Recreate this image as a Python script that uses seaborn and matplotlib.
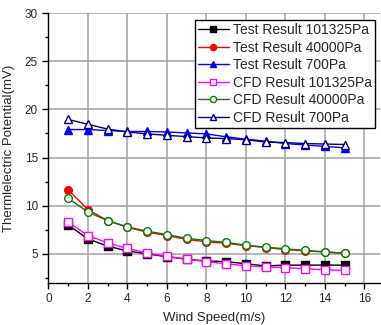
import numpy as np
import matplotlib
matplotlib.use('Agg')
import matplotlib.pyplot as plt
import pandas as pd
import seaborn as sns
from matplotlib.ticker import MultipleLocator

# Dati
wind_speed = list(range(1, 16))
test_101325 = [8.0, 6.55, 5.8, 5.3, 5.0, 4.7, 4.45, 4.25, 4.2, 3.96, 3.75, 3.83, 3.83, 3.83, 3.83]
test_40000 = [11.65, 9.6, 8.45, 7.75, 7.25, 6.9, 6.5, 6.25, 6.1, 5.85, 5.65, 5.45, 5.3, 5.2, 5.05]
test_700 = [17.9, 17.9, 17.8, 17.7, 17.7, 17.65, 17.55, 17.45, 17.15, 16.9, 16.7, 16.45, 16.3, 16.15, 16.0]
cfd_101325 = [8.3, 6.9, 6.14, 5.56, 5.1, 4.73, 4.45, 4.2, 3.97, 3.76, 3.66, 3.56, 3.45, 3.35, 3.28]
cfd_40000 = [10.78, 9.34, 8.45, 7.8, 7.35, 7.0, 6.62, 6.38, 6.18, 5.9, 5.7, 5.52, 5.35, 5.2, 5.07]
cfd_700 = [18.95, 18.45, 17.95, 17.65, 17.45, 17.3, 17.17, 17.03, 16.96, 16.85, 16.6, 16.55, 16.45, 16.4, 16.35]

series_labels = ['Test Result 101325Pa', 'Test Result 40000Pa', 'Test Result 700Pa',
                 'CFD Result 101325Pa', 'CFD Result 40000Pa', 'CFD Result 700Pa']
series_values = [test_101325, test_40000, test_700, cfd_101325, cfd_40000, cfd_700]
colors = ['black', 'red', 'blue', 'magenta', 'green', 'navy']
markers = ['s', 'o', '^', 's', 'o', '^']
filled = [True, True, True, False, False, False]

sns.set_style('white')
plt.rcParams['font.family'] = ['Liberation Sans', 'DejaVu Sans']

fig = plt.figure(figsize=(3.81, 3.25), dpi=100)
ax = fig.add_axes([0.127, 0.130, 0.871, 0.830])

for lab, vals, col, mk, fl in zip(series_labels, series_values, colors, markers, filled):
    df = pd.DataFrame({'v': wind_speed, 'p': vals})
    sns.lineplot(data=df, x='v', y='p', ax=ax, color=col, marker=mk, markersize=5.5,
                 linewidth=1, markerfacecolor=col if fl else 'white',
                 markeredgecolor=col, markeredgewidth=1, label=lab, zorder=3)

ax.set_xlim(0, 16.8)
ax.set_ylim(2, 30)
ax.xaxis.set_major_locator(MultipleLocator(2))
ax.xaxis.set_minor_locator(MultipleLocator(1))
ax.yaxis.set_major_locator(MultipleLocator(5))
ax.yaxis.set_minor_locator(MultipleLocator(2.5))
ax.tick_params(which='major', direction='out', length=4, width=1, labelsize=8.5, color='black')
ax.tick_params(which='minor', direction='out', length=2.5, width=1, color='black')
ax.tick_params(axis='x', bottom=True, which='both')
ax.tick_params(axis='y', left=True, which='both')
ax.grid(True, which='major', color='#a0a0a0', linewidth=1.1)
for s in ['top', 'right']:
    ax.spines[s].set_visible(False)
for s in ['left', 'bottom']:
    ax.spines[s].set_color('black')
    ax.spines[s].set_linewidth(1)

ax.set_xlabel('Wind Speed(m/s)', fontsize=9.5, labelpad=5)
ax.set_ylabel('Thermlelectric Potential(mV)', fontsize=9.5, labelpad=7)

leg = ax.legend(loc='upper right', bbox_to_anchor=(0.985, 0.975), fontsize=10, frameon=True,
                fancybox=False, framealpha=1, edgecolor='black', handlelength=2.2,
                handletextpad=0.3, borderpad=0.25, labelspacing=0.25, borderaxespad=0,
                markerscale=0.8)
leg.get_frame().set_linewidth(1)
leg.set_zorder(5)

fig.savefig('out.png', dpi=100)
